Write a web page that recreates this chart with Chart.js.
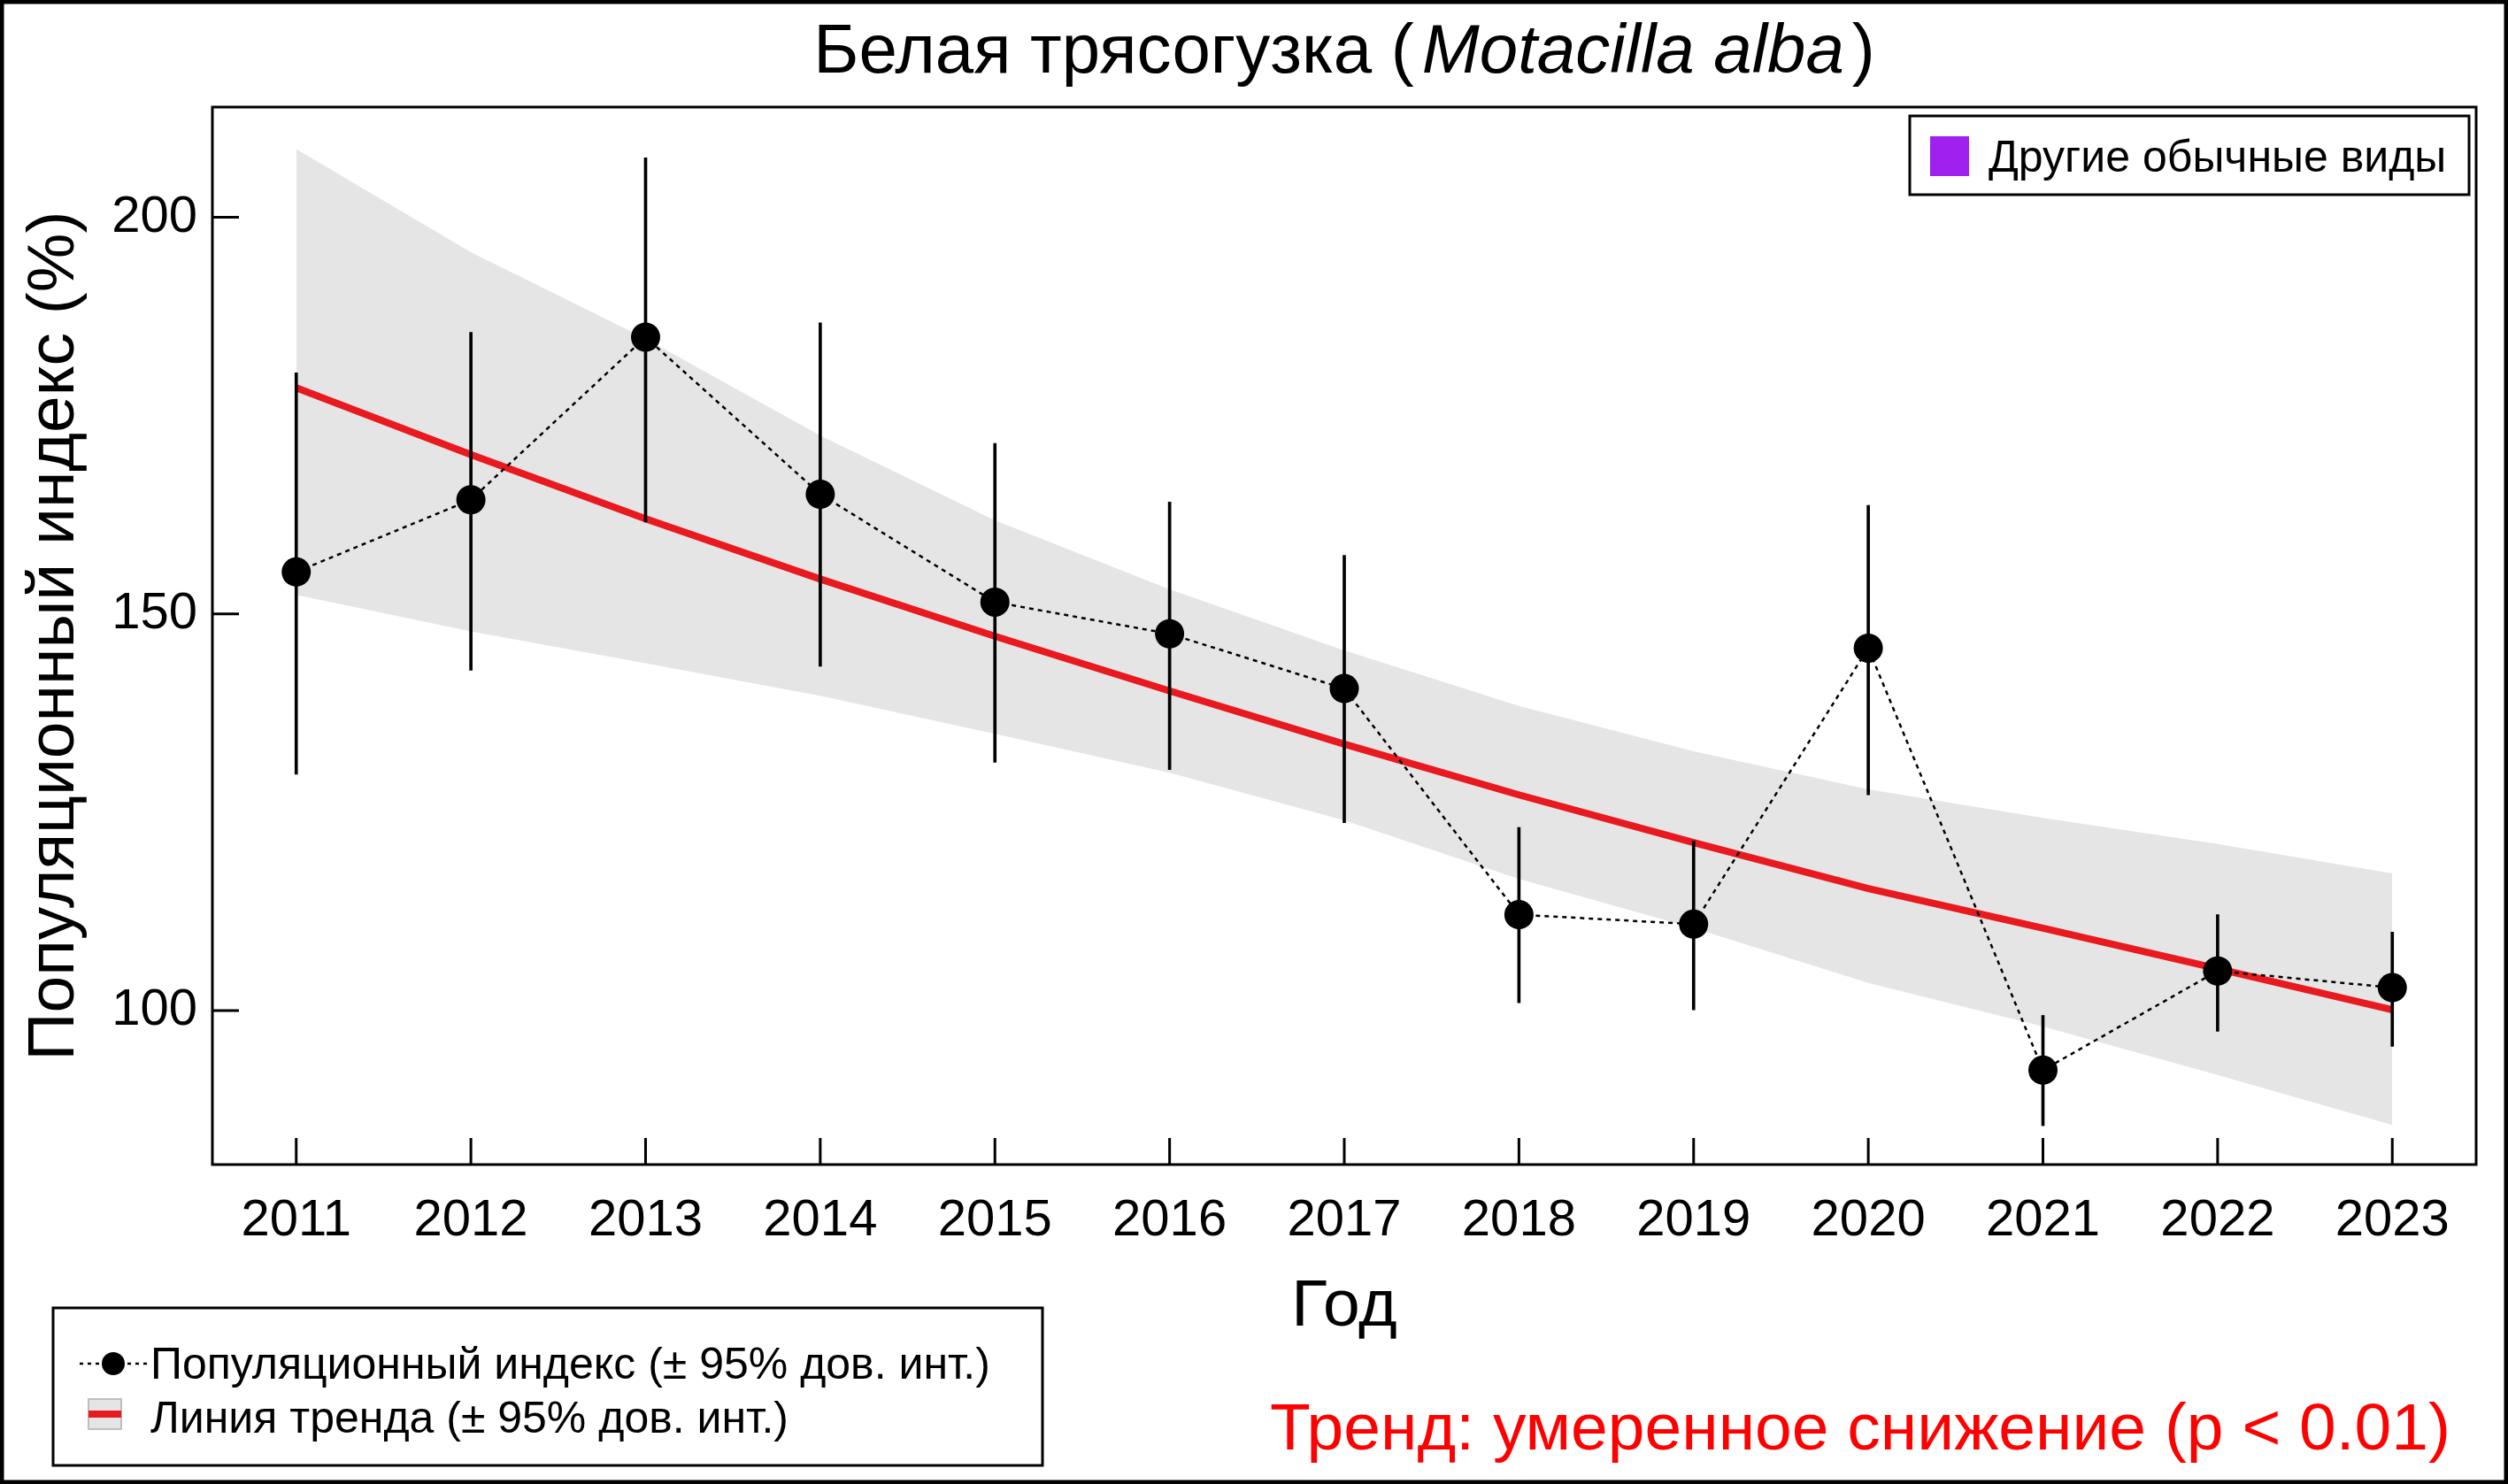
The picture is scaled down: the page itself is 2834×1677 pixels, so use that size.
<!DOCTYPE html>
<html><head><meta charset="utf-8">
<script src="https://cdn.jsdelivr.net/npm/chart.js@4/dist/chart.umd.min.js"></script>
<style>html,body{margin:0;padding:0;background:#fff;overflow:hidden}#wrap{width:2834px;height:1677px;position:relative}canvas{display:block}</style>
</head><body><div id="wrap"><canvas id="c" width="2834" height="1677"></canvas></div>
<script>
// ---- data ----
const years = [2011, 2012, 2013, 2014, 2015, 2016, 2017, 2018, 2019, 2020, 2021, 2022, 2023];
const xTickLabels = ['2011','2012','2013','2014','2015','2016','2017','2018','2019','2020','2021','2022','2023'];
const indexValues = [155.3, 164.4, 184.9, 165.1, 151.5, 147.5, 140.6, 112.1, 110.9, 145.7, 92.5, 105.0, 102.9];
const indexLower  = [129.8, 142.9, 161.6, 143.4, 131.3, 130.4, 123.7, 101.0, 100.1, 127.2, 85.5, 97.4, 95.5];
const indexUpper  = [180.4, 185.5, 207.5, 186.7, 171.5, 164.1, 157.4, 123.1, 121.4, 163.7, 99.4, 112.1, 109.9];
const trendValues = [178.5, 170.1, 162.0, 154.4, 147.2, 140.3, 133.6, 127.2, 121.2, 115.4, 110.4, 105.3, 100.1];
const trendUpper  = [208.6, 195.6, 184.7, 172.5, 161.8, 153.1, 145.4, 138.4, 132.7, 127.9, 124.3, 121.0, 117.3];
const trendLower  = [152.4, 147.8, 143.8, 139.7, 134.9, 130.0, 124.0, 116.6, 110.4, 103.5, 98.0, 91.9, 85.6];
const yTickValues = [100, 150, 200];

const titleParts = [['Белая трясогузка (', false], ['Motacilla alba', true], [')', false]];
const yTitle = 'Популяционный индекс (%)';
const xTitle = 'Год';
const legendTopText = 'Другие обычные виды';
const legendIndexText = 'Популяционный индекс (± 95% дов. инт.)';
const legendTrendText = 'Линия тренда (± 95% дов. инт.)';
const trendNote = 'Тренд: умеренное снижение (p < 0.01)';

const FAM = '"Liberation Sans", Arial, Helvetica, sans-serif';
const pts = (arr) => years.map((x, i) => ({x: x, y: arr[i]}));

const decor = {
  id: 'decor',
  afterDraw(chart) {
    const ctx = chart.ctx;
    const a = chart.chartArea;
    const xs = chart.scales.x, ys = chart.scales.y;
    ctx.save();
    // plot box
    ctx.strokeStyle = '#000'; ctx.lineWidth = 3;
    ctx.strokeRect(a.left, a.top, a.right - a.left, a.bottom - a.top);
    // inward ticks
    ctx.beginPath();
    years.forEach(v => { const px = xs.getPixelForValue(v); ctx.moveTo(px, a.bottom); ctx.lineTo(px, a.bottom - 30); });
    yTickValues.forEach(v => { const py = ys.getPixelForValue(v); ctx.moveTo(a.left, py); ctx.lineTo(a.left + 30, py); });
    ctx.stroke();

    // title with italic latin name
    ctx.fillStyle = '#000'; ctx.textBaseline = 'alphabetic'; ctx.textAlign = 'left';
    const tsize = 78;
    let widths = titleParts.map(p => { ctx.font = (p[1] ? 'italic ' : '') + tsize + 'px ' + FAM; return ctx.measureText(p[0]).width; });
    const gap = 9;
    const total = widths.reduce((s, w) => s + w, 0) + gap * 2;
    let tx = (a.left + a.right) / 2 - total / 2;
    titleParts.forEach((p, i) => {
      ctx.font = (p[1] ? 'italic ' : '') + tsize + 'px ' + FAM;
      ctx.fillText(p[0], tx, 82);
      tx += widths[i] + (i < 2 ? gap : 0);
    });

    // top-right legend
    ctx.lineWidth = 3; ctx.strokeStyle = '#000';
    ctx.strokeRect(2158, 131, 632, 89);
    ctx.fillStyle = '#A020F0';
    ctx.fillRect(2181, 154, 44, 45);
    ctx.fillStyle = '#000';
    ctx.font = '50px ' + FAM;
    ctx.fillText(legendTopText, 2247, 194);

    // bottom-left legend
    ctx.strokeRect(60, 1478, 1118, 178);
    ctx.save();
    ctx.setLineDash([4, 5]); ctx.lineWidth = 2.5;
    ctx.beginPath(); ctx.moveTo(90, 1541); ctx.lineTo(166, 1541); ctx.stroke();
    ctx.restore();
    ctx.beginPath(); ctx.arc(128, 1541, 13, 0, Math.PI * 2); ctx.fill();
    ctx.fillText(legendIndexText, 170, 1558);
    ctx.fillStyle = '#E5E5E5'; ctx.fillRect(100, 1581, 37, 34);
    ctx.strokeStyle = '#BEBEBE'; ctx.lineWidth = 2; ctx.strokeRect(100, 1581, 37, 34);
    ctx.strokeStyle = '#E8191F'; ctx.lineWidth = 8;
    ctx.beginPath(); ctx.moveTo(100, 1598); ctx.lineTo(137, 1598); ctx.stroke();
    ctx.fillStyle = '#000';
    ctx.fillText(legendTrendText, 170, 1619);

    // trend note
    ctx.fillStyle = '#FF0000'; ctx.font = '75px ' + FAM; ctx.textAlign = 'right';
    ctx.fillText(trendNote, 2769, 1638);

    // outer frame
    ctx.strokeStyle = '#000'; ctx.lineWidth = 9;
    ctx.strokeRect(0, 0, chart.width, chart.height);
    ctx.restore();
  }
};

new Chart(document.getElementById('c').getContext('2d'), {
  type: 'line',
  data: {
    datasets: [
      {label: 'CI upper', data: pts(trendUpper), borderWidth: 0, pointRadius: 0, fill: '+1', backgroundColor: '#E5E5E5', tension: 0, order: 5},
      {label: 'CI lower', data: pts(trendLower), borderWidth: 0, pointRadius: 0, fill: false, tension: 0, order: 4},
      {label: 'Trend', data: pts(trendValues), borderColor: '#E8191F', borderWidth: 8, pointRadius: 0, fill: false, tension: 0, order: 3},
      {type: 'bar', label: 'Index CI', data: years.map((x, i) => ({x: x, y: [indexLower[i], indexUpper[i]]})), backgroundColor: '#000', borderWidth: 0, barThickness: 3, order: 2},
      {label: 'Index', data: pts(indexValues), borderColor: '#000', borderWidth: 2.5, borderDash: [5, 5], pointRadius: 16.5, pointHoverRadius: 16.5, pointBackgroundColor: '#000', pointBorderWidth: 0, fill: false, tension: 0, order: 1}
    ]
  },
  options: {
    responsive: false, animation: false, devicePixelRatio: 1,
    layout: {padding: {left: 0, right: 36, top: 121, bottom: 0}},
    plugins: {legend: {display: false}, tooltip: {enabled: false}, title: {display: false}},
    scales: {
      x: {
        type: 'linear', min: 2010.52, max: 2023.48, offset: false,
        grid: {display: false, drawTicks: false}, border: {display: false},
        afterBuildTicks: s => { s.ticks = years.map(v => ({value: v})); },
        ticks: {callback: (v, i) => xTickLabels[i], font: {family: FAM, size: 58}, color: '#000', padding: 29, autoSkip: false, maxRotation: 0, minRotation: 0},
        title: {display: true, text: xTitle, color: '#000', font: {family: FAM, size: 75, lineHeight: 1}, padding: {top: 0, bottom: 162}},
        afterFit: s => { s.height = 361; }
      },
      y: {
        type: 'linear', min: 80.6, max: 213.9,
        grid: {display: false, drawTicks: false}, border: {display: false},
        afterBuildTicks: s => { s.ticks = yTickValues.map(v => ({value: v})); },
        ticks: {font: {family: FAM, size: 58}, color: '#000', padding: 17},
        title: {display: true, text: yTitle, color: '#000', font: {family: FAM, size: 75, lineHeight: 1}, padding: {top: 25, bottom: 0}},
        afterFit: s => { s.width = 240; }
      }
    }
  },
  plugins: [decor]
});
</script>
</body></html>
